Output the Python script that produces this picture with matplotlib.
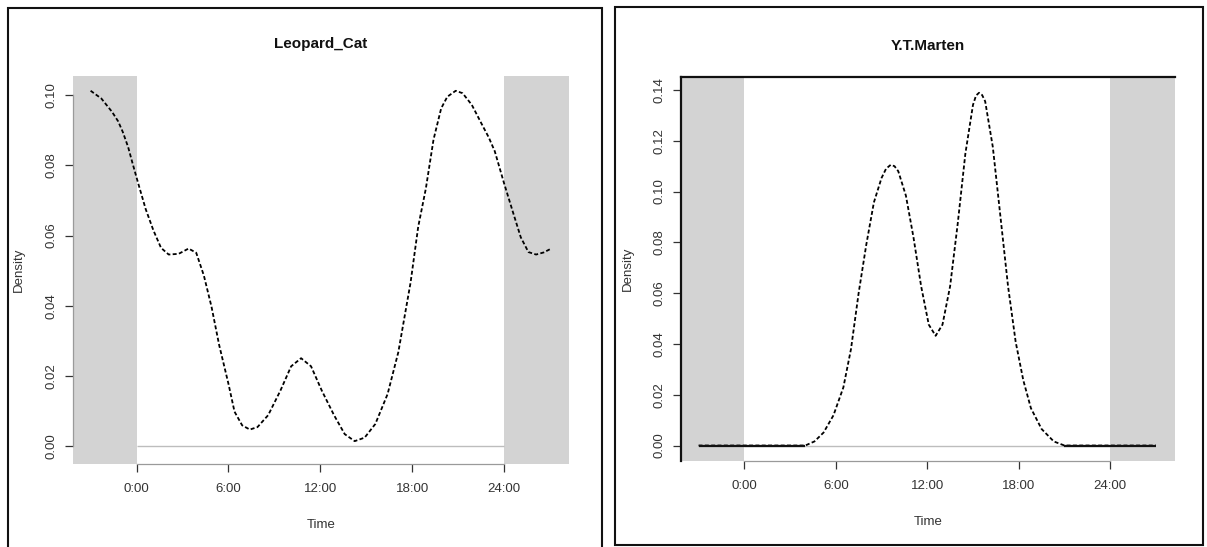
import numpy as np
import matplotlib
matplotlib.use('Agg')
import matplotlib.pyplot as plt
from matplotlib.patches import Rectangle

plt.rcParams['font.family'] = ['Liberation Sans', 'DejaVu Sans']

# ---------------- data ----------------
cat_hours = [-3.0, -2.3, -1.6, -1.2, -0.9, -0.55, -0.25, 0.1, 0.6, 1.1, 1.6, 2.1, 2.75, 3.4, 3.9,
             4.4, 4.9, 5.4, 6.0, 6.4, 6.9, 7.4, 7.9, 8.6, 9.4, 10.1, 10.75, 11.4,
             12.1, 12.9, 13.6, 14.25, 14.9, 15.6, 16.4, 17.1, 17.9, 18.4, 18.9,
             19.4, 19.9, 20.3, 20.85, 21.3, 21.9, 22.6, 23.0, 23.4, 24.0, 24.6, 25.1,
             25.6, 26.1, 26.6, 27.0]
cat_density = [0.1012, 0.0990, 0.0952, 0.0925, 0.0895, 0.0852, 0.0804, 0.0750, 0.0675, 0.0615,
               0.0565, 0.0546, 0.0548, 0.0563, 0.0551, 0.0486, 0.0397, 0.0288,
               0.0179, 0.0099, 0.0060, 0.0048, 0.0055, 0.0089, 0.0159, 0.0228,
               0.0251, 0.0228, 0.0159, 0.0089, 0.0035, 0.0015, 0.0025, 0.0064,
               0.0149, 0.0268, 0.0466, 0.0625, 0.0734, 0.0873, 0.0962, 0.0995,
               0.1012, 0.1005, 0.0972, 0.0913, 0.0880, 0.0840, 0.0750, 0.0665, 0.0595,
               0.0553, 0.0546, 0.0552, 0.0561]

marten_hours = [-3.0, -1.0, 1.0, 3.0, 4.0, 4.6, 5.2, 5.85, 6.5, 7.0, 7.5, 8.0,
                8.5, 9.0, 9.3, 9.6, 9.85, 10.1, 10.6, 11.1, 11.6, 12.1, 12.55,
                13.0, 13.5, 14.0, 14.5, 15.0, 15.2, 15.4, 15.6, 15.8, 16.3, 16.8,
                17.3, 17.8, 18.3, 18.8, 19.5, 20.3, 21.0, 23.0, 25.0, 27.0]
marten_density = [0.0, 0.0, 0.0, 0.0, 0.0, 0.0016, 0.0051, 0.0119, 0.0229, 0.0380,
                  0.0600, 0.0790, 0.0957, 0.1053, 0.1090, 0.1105, 0.1100, 0.1080,
                  0.0984, 0.0819, 0.0627, 0.0476, 0.0432, 0.0476, 0.0627, 0.0874,
                  0.1149, 0.1341, 0.1378, 0.1389, 0.1380, 0.1355, 0.1176, 0.0902,
                  0.0627, 0.0408, 0.0257, 0.0147, 0.0065, 0.0016, 0.0, 0.0, 0.0, 0.0]

x_ticks = [0, 6, 12, 18, 24]
x_tick_labels = ["0:00", "6:00", "12:00", "18:00", "24:00"]
cat_y_ticks = [0.00, 0.02, 0.04, 0.06, 0.08, 0.10]
cat_y_labels = ["0.00", "0.02", "0.04", "0.06", "0.08", "0.10"]
marten_y_ticks = [0.00, 0.02, 0.04, 0.06, 0.08, 0.10, 0.12, 0.14]
marten_y_labels = ["0.00", "0.02", "0.04", "0.06", "0.08", "0.10", "0.12", "0.14"]

titles = ["Leopard_Cat", "Y.T.Marten"]

# ---------------- figure ----------------
W, H = 1207, 547
fig = plt.figure(figsize=(W / 100, H / 100), dpi=100)
fig.patch.set_facecolor('white')

def px_rect(x0, y0, x1, y1):
    return [x0 / W, (H - y1) / H, (x1 - x0) / W, (y1 - y0) / H]

# panel frames
fig.patches.append(Rectangle((8 / W, (H - 560) / H), (602 - 8) / W, (560 - 8) / H,
                             transform=fig.transFigure, fill=False,
                             edgecolor='#111111', linewidth=1.5))
fig.patches.append(Rectangle((615 / W, (H - 545) / H), (1203 - 615) / W, (545 - 7) / H,
                             transform=fig.transFigure, fill=False,
                             edgecolor='#111111', linewidth=1.5))

ax1 = fig.add_axes(px_rect(73, 76, 569, 464))
ax2 = fig.add_axes(px_rect(681, 77, 1175, 460.5))

xlim = (-4.15, 28.25)
panels = [
    (ax1, cat_hours, cat_density, cat_y_ticks, cat_y_labels, (-0.0050, 0.1054), titles[0]),
    (ax2, marten_hours, marten_density, marten_y_ticks, marten_y_labels, (-0.0059, 0.1451), titles[1]),
]

for i, (ax, hrs, dens, yt, yl, ylim, title) in enumerate(panels):
    ax.set_xlim(*xlim)
    ax.set_ylim(*ylim)
    ax.set_facecolor('white')
    # night extension shading
    ax.axvspan(xlim[0], 0, color='#d3d3d3', lw=0, zorder=0)
    ax.axvspan(24, xlim[1], color='#d3d3d3', lw=0, zorder=0)
    # zero line
    ax.hlines(0, 0, 24, color='#bdbdbd', lw=1.0, zorder=1)
    d = np.array(dens)
    h = np.array(hrs)
    ax.plot(h, d, color='black', lw=1.3, linestyle=(0, (2.2, 1.3)), zorder=3)
    flat = np.where(d <= 0.0, d, np.nan)
    ax.plot(h, flat, color='#111111', lw=1.6, solid_capstyle='butt', zorder=3)

    ax.set_xticks(x_ticks)
    ax.set_xticklabels(x_tick_labels)
    ax.set_yticks(yt)
    ax.set_yticklabels(yl, rotation=90, va='center')
    ax.tick_params(axis='both', direction='out', length=6, width=0.9,
                   color='#333333', labelcolor='#333333', labelsize=9.5)
    ax.tick_params(axis='x', pad=8)
    ax.tick_params(axis='y', pad=5)

    ax.spines['right'].set_visible(False)
    if i == 0:
        ax.spines['top'].set_visible(False)
        ax.spines['left'].set_bounds(0, 0.10)
        ax.spines['left'].set_color('#9a9a9a')
        ax.spines['left'].set_linewidth(0.9)
    else:
        ax.spines['top'].set_color('#111111')
        ax.spines['top'].set_linewidth(1.6)
        ax.spines['left'].set_color('#111111')
        ax.spines['left'].set_linewidth(1.6)
    ax.spines['bottom'].set_bounds(0, 24)
    ax.spines['bottom'].set_color('#9a9a9a')
    ax.spines['bottom'].set_linewidth(0.9)

    ax.set_xlabel('Time', fontsize=9.5, color='#333333')
    ax.set_ylabel('Density', fontsize=9.5, color='#333333')
    ax.xaxis.set_label_coords(0.5, -0.142 if i == 0 else -0.145)
    ax.yaxis.set_label_coords(-0.097 if i == 0 else -0.095, 0.5)
    ax.text(0.5, 1.083 if i == 0 else 1.081, title, transform=ax.transAxes,
            ha='center', va='center', fontsize=11, fontweight='bold', color='#111111')

fig.savefig('out.png', dpi=100, facecolor='white')
